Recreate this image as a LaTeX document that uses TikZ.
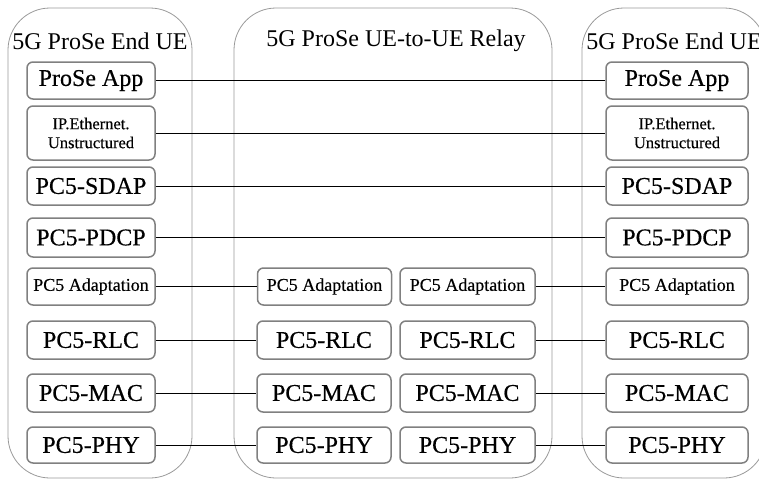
\documentclass[tikz,border=0pt]{standalone}
\usepackage{fontspec}
\setmainfont{Liberation Serif}
\newfontfamily\boxfont[FakeBold=0.4]{Liberation Serif}
\begin{document}
\begin{tikzpicture}[x=1pt,y=-1pt,
  container/.style={draw=black!40, line width=0.8pt, rounded corners=42pt},
  lyr/.style={draw=black!50, line width=1.5pt, rounded corners=6pt, inner sep=0pt, font=\boxfont\fontsize{24}{26}\selectfont},
  smalltxt/.style={font=\boxfont\fontsize{18}{20}\selectfont},
  tinytxt/.style={font=\boxfont\fontsize{16.5}{19}\selectfont, align=center},
  titletxt/.style={font=\fontsize{24}{26}\selectfont, inner sep=0pt},
  link/.style={draw=black, line width=0.9pt}]
\useasboundingbox (0,0) rectangle (759,479);
\clip (0,0) rectangle (759,479);
% containers
\draw[container] (8,8) rectangle (192,478);
\draw[container] (234,8) rectangle (552,478);
\draw[container] (582,8) rectangle (766,478);
% titles
\node[titletxt] (tL) at (100,41) {5G ProSe End UE};
\node[titletxt] (tM) at (396,41) {5G ProSe UE-to-UE Relay};
\node[titletxt] (tR) at (674,41) {5G ProSe End UE};
% left end UE
\node[lyr, minimum width=128, minimum height=37] (lApp) at (91,80.5) {ProSe App};
\node[lyr, tinytxt, minimum width=128, minimum height=54] (lIP) at (91,133) {IP.Ethernet.\\Unstructured};
\node[lyr, minimum width=128, minimum height=38] (lSDAP) at (91,186) {PC5-SDAP};
\node[lyr, minimum width=128, minimum height=39] (lPDCP) at (91,237.5) {PC5-PDCP};
\node[lyr, smalltxt, minimum width=128, minimum height=37] (lAd) at (91,286.5) {PC5 Adaptation};
\node[lyr, minimum width=128, minimum height=38] (lRLC) at (91,340) {PC5-RLC};
\node[lyr, minimum width=128, minimum height=38] (lMAC) at (91,393) {PC5-MAC};
\node[lyr, minimum width=128, minimum height=36] (lPHY) at (91,445) {PC5-PHY};
% right end UE
\node[lyr, minimum width=142, minimum height=37] (rApp) at (677,80.5) {ProSe App};
\node[lyr, tinytxt, minimum width=142, minimum height=54] (rIP) at (677,133) {IP.Ethernet.\\Unstructured};
\node[lyr, minimum width=142, minimum height=38] (rSDAP) at (677,186) {PC5-SDAP};
\node[lyr, minimum width=142, minimum height=39] (rPDCP) at (677,237.5) {PC5-PDCP};
\node[lyr, smalltxt, minimum width=142, minimum height=37] (rAd) at (677,286.5) {PC5 Adaptation};
\node[lyr, minimum width=142, minimum height=38] (rRLC) at (677,340) {PC5-RLC};
\node[lyr, minimum width=142, minimum height=38] (rMAC) at (677,393) {PC5-MAC};
\node[lyr, minimum width=142, minimum height=36] (rPHY) at (677,445) {PC5-PHY};
% relay left stack
\node[lyr, smalltxt, minimum width=134, minimum height=37] (mlAd) at (324.5,286.5) {PC5 Adaptation};
\node[lyr, minimum width=134, minimum height=38] (mlRLC) at (324,340) {PC5-RLC};
\node[lyr, minimum width=134, minimum height=38] (mlMAC) at (324,393) {PC5-MAC};
\node[lyr, minimum width=134, minimum height=36] (mlPHY) at (324,445) {PC5-PHY};
% relay right stack
\node[lyr, smalltxt, minimum width=135, minimum height=37] (mrAd) at (467.5,286.5) {PC5 Adaptation};
\node[lyr, minimum width=135, minimum height=38] (mrRLC) at (467.5,340) {PC5-RLC};
\node[lyr, minimum width=135, minimum height=38] (mrMAC) at (467.5,393) {PC5-MAC};
\node[lyr, minimum width=135, minimum height=36] (mrPHY) at (467.5,445) {PC5-PHY};
% connectors
\draw[link] (lApp) -- (rApp);
\draw[link] (lIP) -- (rIP);
\draw[link] (lSDAP) -- (rSDAP);
\draw[link] (lPDCP) -- (rPDCP);
\draw[link] (lAd) -- (mlAd);
\draw[link] (lRLC) -- (mlRLC);
\draw[link] (lMAC) -- (mlMAC);
\draw[link] (lPHY) -- (mlPHY);
\draw[link] (mrAd) -- (rAd);
\draw[link] (mrRLC) -- (rRLC);
\draw[link] (mrMAC) -- (rMAC);
\draw[link] (mrPHY) -- (rPHY);
\end{tikzpicture}
\end{document}
